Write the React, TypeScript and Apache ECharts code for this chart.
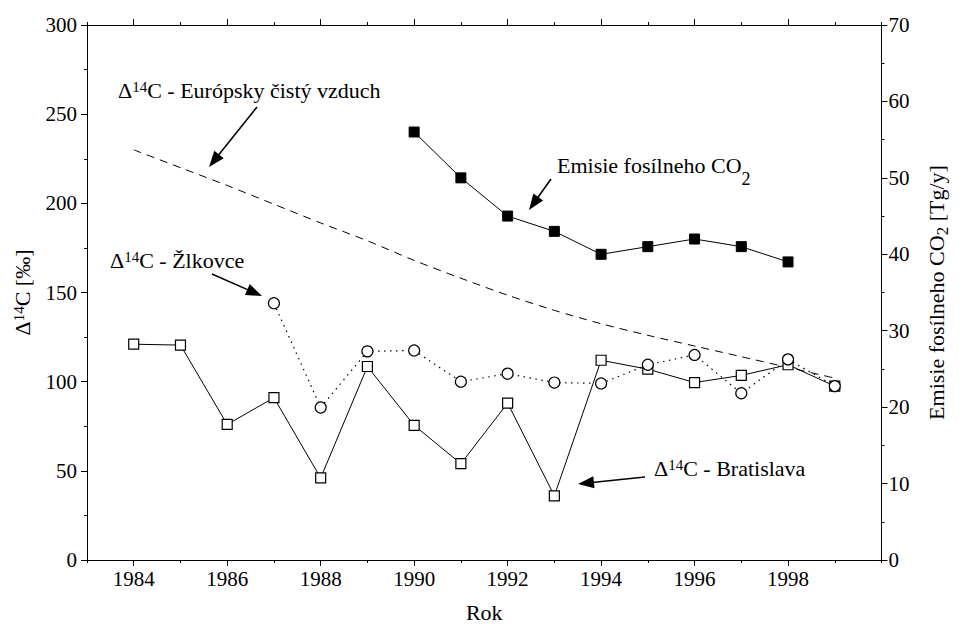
import React, { useEffect, useRef } from 'react';
import * as echarts from 'echarts';

// ---- data ----
const axisYears = ['1983','1984','1985','1986','1987','1988','1989','1990','1991','1992','1993','1994','1995','1996','1997','1998','1999','2000'];

const bratislavaYears = [1984,1985,1986,1987,1988,1989,1990,1991,1992,1993,1994,1995,1996,1997,1998,1999];
const bratislavaValues = [121,120.5,76,91,46,108.5,75.5,54,88,36,112,107,99.5,103.5,109.5,97.5];

const zlkovceYears = [1987,1988,1989,1990,1991,1992,1993,1994,1995,1996,1997,1998,1999];
const zlkovceValues = [144,85.5,117,117.5,100,104.5,99.5,99,109.5,115,93.5,112.5,97.5];

const emissionYears = [1990,1991,1992,1993,1994,1995,1996,1997,1998];
const emissionValues = [56,50,45,43,40,41,42,41,39];

const cleanAirYears = [1984,1985,1986,1987,1988,1989,1990,1991,1992,1993,1994,1995,1996,1997,1998,1999];
const cleanAirValues = [230,220,210,199.5,189,179,168,158,148.5,140,132.5,126,120,114,108,102];

const FF = 'Liberation Serif';

const pairs = (xs: number[], ys: number[]) => xs.map((x, i) => [String(x), ys[i]]);
const isMajor = (v: string) => Number(v) % 2 === 0 && v !== '2000';

function arrow(x1: number, y1: number, x2: number, y2: number) {
  const dx = x2 - x1, dy = y2 - y1;
  const len = Math.hypot(dx, dy);
  const ux = dx / len, uy = dy / len;
  const hl = 16, hw = 6;
  const bx = x2 - ux * hl, by = y2 - uy * hl;
  const px = -uy, py = ux;
  return [
    { type: 'line', shape: { x1, y1, x2: bx + ux * 2, y2: by + uy * 2 }, style: { stroke: '#000', lineWidth: 1.6 } },
    { type: 'polygon', shape: { points: [[x2, y2], [bx + px * hw, by + py * hw], [bx - px * hw, by - py * hw]] }, style: { fill: '#000' } },
  ];
}

const annRich = {
  m: { fontSize: 22, fontFamily: FF, lineHeight: 24, height: 24, verticalAlign: 'middle', fill: '#000' },
  s: { fontSize: 15, fontFamily: FF, height: 17, verticalAlign: 'top', fill: '#000' },
};
const annRichSub = {
  m: { fontSize: 22, fontFamily: FF, lineHeight: 40, height: 24, verticalAlign: 'middle', fill: '#000' },
  b: { fontSize: 18, fontFamily: FF, height: 12, verticalAlign: 'bottom', fill: '#000' },
};

function label(x: number, y: number, text: string, rich: any) {
  return { type: 'text', x, y, style: { text, rich, align: 'left', verticalAlign: 'middle', fill: '#000', fontFamily: FF, fontSize: 22 } };
}

export default function App() {
  const ref = useRef<HTMLDivElement>(null);
  useEffect(() => {
    if (!ref.current) return;
    const chart = echarts.init(ref.current, null, { renderer: 'svg' });
    const black = { color: '#000', width: 1 };
    const xCommon: any = {
      type: 'category',
      data: axisYears,
      boundaryGap: false,
      splitLine: { show: false },
      axisLine: { show: true, onZero: false, lineStyle: black },
    };
    const tickLabel = { color: '#000', fontSize: 21, fontFamily: FF };
    const option: any = {
      animation: false,
      backgroundColor: '#fff',
      textStyle: { fontFamily: FF },
      grid: { left: 87, right: 74, top: 25, bottom: 64, containLabel: false },
      xAxis: [
        {
          ...xCommon, position: 'bottom',
          axisTick: { show: true, interval: 0, length: 3, lineStyle: black },
          axisLabel: { ...tickLabel, margin: 8, interval: (_i: number, v: string) => isMajor(v) },
          name: 'Rok', nameLocation: 'middle', nameGap: 41,
          nameTextStyle: { color: '#000', fontSize: 22, fontFamily: FF },
        },
        {
          ...xCommon, position: 'bottom',
          axisTick: { show: true, interval: (_i: number, v: string) => isMajor(v), length: 6, lineStyle: black },
          axisLabel: { show: false },
        },
        {
          ...xCommon, position: 'top',
          axisTick: { show: true, interval: 0, length: 3, lineStyle: black },
          axisLabel: { show: false },
        },
        {
          ...xCommon, position: 'top',
          axisTick: { show: true, interval: (_i: number, v: string) => isMajor(v), length: 6, lineStyle: black },
          axisLabel: { show: false },
        },
      ],
      yAxis: [
        {
          type: 'value', position: 'left', min: 0, max: 300, interval: 50,
          axisLine: { show: true, onZero: false, lineStyle: black },
          axisTick: { show: true, length: 6, lineStyle: black },
          minorTick: { show: true, splitNumber: 2, length: 3, lineStyle: black },
          splitLine: { show: false },
          axisLabel: { ...tickLabel, margin: 10 },
          name: '{m|Δ}{s|14}{m|C [‰]}', nameLocation: 'middle', nameGap: 36,
          nameTextStyle: {
            color: '#000', fontSize: 22, fontFamily: FF,
            rich: {
              m: { color: '#000', fontSize: 22, fontFamily: FF, lineHeight: 24, height: 24, verticalAlign: 'middle' },
              s: { color: '#000', fontSize: 15, fontFamily: FF, height: 17, verticalAlign: 'top' },
            },
          },
        },
        {
          type: 'value', position: 'right', min: 0, max: 70, interval: 10,
          axisLine: { show: true, onZero: false, lineStyle: black },
          axisTick: { show: true, length: 6, lineStyle: black },
          minorTick: { show: true, splitNumber: 2, length: 3, lineStyle: black },
          splitLine: { show: false },
          axisLabel: { ...tickLabel, margin: 7 },
          name: '{m|Emisie fosílneho CO}{b|2}{m| [Tg/y]}', nameLocation: 'middle', nameGap: 43,
          nameTextStyle: {
            color: '#000', fontSize: 22, fontFamily: FF,
            rich: {
              m: { color: '#000', fontSize: 22, fontFamily: FF, lineHeight: 24, height: 24, verticalAlign: 'middle' },
              b: { color: '#000', fontSize: 17, fontFamily: FF, height: 12, verticalAlign: 'bottom' },
            },
          },
        },
      ],
      series: [
        {
          name: 'Európsky čistý vzduch', type: 'line', xAxisIndex: 0, yAxisIndex: 0,
          data: pairs(cleanAirYears, cleanAirValues), smooth: 0.3,
          showSymbol: false, symbol: 'none',
          lineStyle: { color: '#000', width: 1, type: [8, 6] },
          z: 2,
        },
        {
          name: 'Bratislava', type: 'line', xAxisIndex: 0, yAxisIndex: 0,
          data: pairs(bratislavaYears, bratislavaValues),
          symbol: 'rect', symbolSize: 10,
          lineStyle: { color: '#000', width: 1 },
          itemStyle: { color: '#fff', borderColor: '#000', borderWidth: 1.2 },
          z: 3,
        },
        {
          name: 'Žlkovce', type: 'line', xAxisIndex: 0, yAxisIndex: 0,
          data: pairs(zlkovceYears, zlkovceValues),
          symbol: 'circle', symbolSize: 11,
          lineStyle: { color: '#000', width: 1.2, type: [1.5, 4.5] },
          itemStyle: { color: '#fff', borderColor: '#000', borderWidth: 1.2 },
          z: 4,
        },
        {
          name: 'Emisie', type: 'line', xAxisIndex: 0, yAxisIndex: 1,
          data: pairs(emissionYears, emissionValues),
          symbol: 'rect', symbolSize: 10,
          lineStyle: { color: '#000', width: 1 },
          itemStyle: { color: '#000', borderColor: '#000', borderWidth: 1 },
          z: 5,
        },
      ],
      graphic: [
        label(118, 90, '{m|Δ}{s|14}{m|C - Európsky čistý vzduch}', annRich),
        ...arrow(257, 107, 209, 167),
        label(110, 260, '{m|Δ}{s|14}{m|C - Žlkovce}', annRich),
        ...arrow(212, 274, 262, 296),
        label(557, 165, '{m|Emisie fosílneho CO}{b|2}', annRichSub),
        ...arrow(551, 179, 529, 210),
        label(654, 468, '{m|Δ}{s|14}{m|C - Bratislava}', annRich),
        ...arrow(645, 477, 578, 484),
      ],
    };
    chart.setOption(option);
    return () => chart.dispose();
  }, []);
  return <div ref={ref} style={{ position: 'fixed', left: 0, top: 0, width: 959, height: 628, background: '#fff' }} />;
}
